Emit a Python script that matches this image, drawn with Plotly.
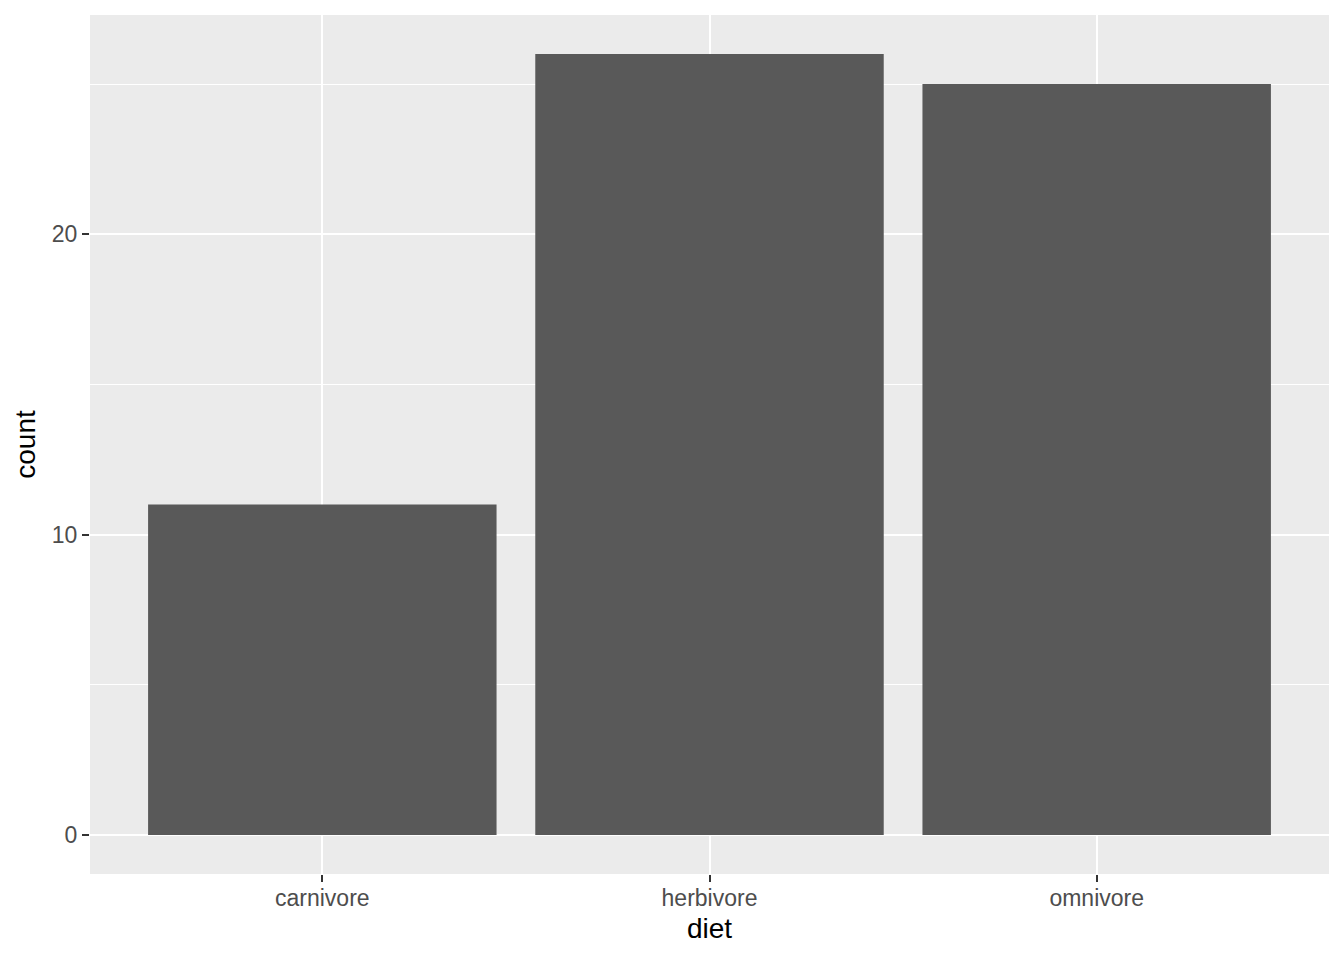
import plotly.graph_objects as go

diet = ["carnivore", "herbivore", "omnivore"]
count = [11, 26, 25]

fig = go.Figure(go.Bar(x=diet, y=count, marker=dict(color="#595959", line=dict(width=0)), width=0.9))

# page body has 8px offset; plot area target: x 90..1329, y 15..874
fig.update_layout(
    width=1328, height=944,
    margin=dict(l=82, r=7, t=7, b=78),
    paper_bgcolor="white", plot_bgcolor="#EBEBEB",
    font=dict(family="Liberation Sans, Arial, sans-serif"),
    showlegend=False,
)
fig.update_xaxes(
    range=[-0.6, 2.6], showgrid=True, gridcolor="white", gridwidth=2.2,
    ticks="outside", ticklen=7, tickwidth=2.2, tickcolor="#333333",
    tickfont=dict(size=23, color="#4D4D4D"), ticklabelstandoff=-4,
    title=dict(text="diet", font=dict(size=28, color="black"), standoff=8),
    zeroline=False, showline=False, automargin=False,
)
fig.update_yaxes(
    range=[-1.3, 27.3], tickvals=[0, 10, 20], showgrid=True, gridcolor="white", gridwidth=2.2,
    minor=dict(tickvals=[5, 15, 25], showgrid=True, gridcolor="white", gridwidth=1.1),
    ticks="outside", ticklen=7, tickwidth=2.2, tickcolor="#333333",
    tickfont=dict(size=23, color="#4D4D4D"),
    title=dict(text="count", font=dict(size=28, color="black"), standoff=8),
    zeroline=False, showline=False, automargin=False,
)
fig.write_html("out.html")
